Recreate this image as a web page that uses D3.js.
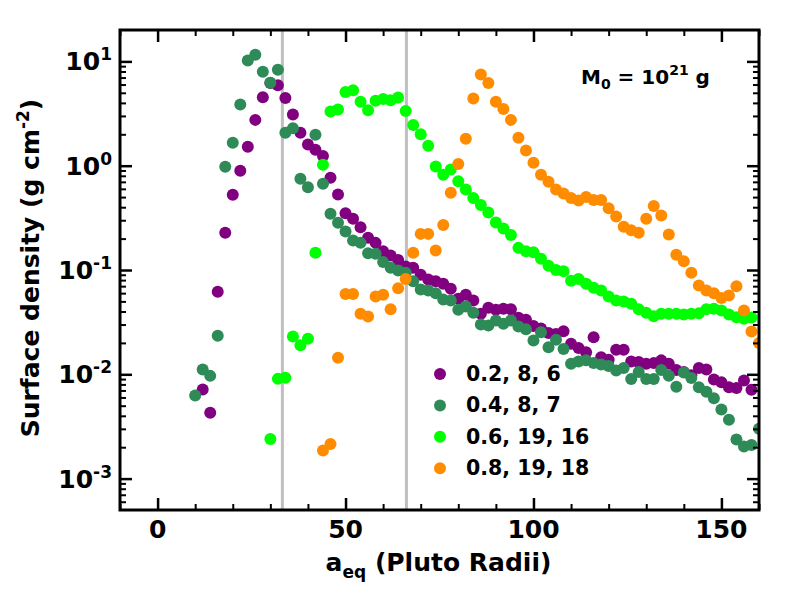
<!DOCTYPE html>
<meta charset="utf-8">
<style>
body { margin: 0; background: #fff; }
text { font-family: "DejaVu Sans", sans-serif; font-weight: bold; }
.axis path { display: none; }
.axis line { stroke: #000; }
</style>
<html>
<body>
<div id="chart"></div>
<script src="https://d3js.org/d3.v7.min.js"></script>
<script>

// ---- data ----
var purpleX = [12,14,16,18,20,22,24,26,28,30,32,34,36,38,40,42,44,46,48,50,52,54,56,58,60,62,64,66,68,70,72,74,76,78,80,82,84,86,88,90,92,94,96,98,100,102,104,106,108,110,112,114,116,118,120,122,124,126,128,130,132,134,136,138,140,142,144,146,148,150,152,154,156,158];
var purpleY = [0.00714,0.00427,0.0618,0.227,0.526,0.895,1.52,2.75,4.52,6.2,5.9,4.45,3.1,2.07,1.6,1.42,1.24,0.766,0.53,0.35,0.31,0.257,0.204,0.182,0.151,0.138,0.125,0.108,0.105,0.090,0.081,0.078,0.074,0.066,0.053,0.058,0.051,0.038,0.0434,0.0415,0.0424,0.042,0.0348,0.0333,0.029,0.0275,0.0249,0.0244,0.0259,0.0196,0.0179,0.0163,0.0227,0.0146,0.0138,0.0172,0.0172,0.0133,0.0131,0.0126,0.0128,0.0136,0.0126,0.011,0.0105,0.0098,0.0115,0.0111,0.0089,0.0084,0.0075,0.0074,0.0087,0.0071];

var seaX = [10,12,14,16,18,20,22,24,26,28,30,32,34,36,38,40,42,44,46,48,50,52,54,56,58,60,62,64,66,68,70,72,74,76,78,80,82,84,86,88,90,92,94,96,98,100,102,104,106,108,110,112,114,116,118,120,122,124,126,128,130,132,134,136,138,140,142,144,146,148,150,152,154,156,158,160];
var seaY = [0.00625,0.0111,0.00966,0.0234,0.977,1.66,3.87,10.2,11.6,7.96,6.25,8.3,2.07,2.29,0.75,0.62,1.98,0.67,0.346,0.284,0.234,0.192,0.182,0.145,0.143,0.119,0.105,0.099,0.094,0.078,0.065,0.0636,0.060,0.052,0.051,0.0415,0.0447,0.039,0.030,0.0294,0.0328,0.0305,0.0328,0.0287,0.027,0.0211,0.0253,0.0182,0.0214,0.0175,0.0126,0.0133,0.0136,0.0128,0.0124,0.012,0.0109,0.0115,0.009,0.0105,0.009,0.009,0.011,0.0097,0.0076,0.0104,0.0092,0.0075,0.0068,0.0059,0.0046,0.00366,0.00237,0.00203,0.0021,0.003];

var limeX = [30,32,34,36,38,40,42,44,46,48,50,52,54,56,58,60,62,64,66,68,70,72,74,76,78,80,82,84,86,88,90,92,94,96,98,100,102,104,106,108,110,112,114,116,118,120,122,124,126,128,130,132,134,136,138,140,142,144,146,148,150,152,154,156,158];
var limeY = [0.0024,0.00904,0.00925,0.023,0.019,0.0219,0.146,1.02,3.3,3.45,5.1,5.3,4.1,3.4,4.2,4.35,4.25,4.5,3.35,2.45,2.0,1.55,0.98,0.82,0.92,0.71,0.59,0.49,0.42,0.355,0.285,0.25,0.217,0.163,0.151,0.148,0.128,0.11,0.1,0.0975,0.079,0.082,0.074,0.0675,0.0636,0.0557,0.051,0.05,0.0475,0.042,0.039,0.036,0.038,0.038,0.038,0.0374,0.038,0.0385,0.042,0.0425,0.041,0.0374,0.0353,0.034,0.035];

var orangeX = [44,46,48,50,52,54,56,58,60,62,64,66,68,70,72,74,76,78,80,82,84,86,88,90,92,94,96,98,100,102,104,106,108,110,112,114,116,118,120,122,124,126,128,130,132,134,136,138,140,142,144,146,148,150,152,154,156,158,160];
var orangeY = [0.00186,0.00215,0.0144,0.059,0.059,0.038,0.0358,0.0557,0.058,0.042,0.067,0.082,0.146,0.222,0.222,0.154,0.27,0.55,1.04,1.81,4.4,7.5,6.2,4.1,3.5,2.75,1.85,1.4,1.07,0.82,0.70,0.59,0.54,0.49,0.464,0.50,0.47,0.47,0.39,0.326,0.26,0.24,0.227,0.31,0.41,0.333,0.219,0.14,0.121,0.094,0.071,0.0636,0.060,0.054,0.057,0.070,0.041,0.0257,0.02];

var seriesNames = ["0.2, 8, 6", "0.4, 8, 7", "0.6, 19, 16", "0.8, 19, 18"];
var seriesColors = ["#800080", "#2e8b57", "#00ff00", "#ff8c00"];
var hillLines = [33.2, 66.2];

var xMajor = [0, 50, 100, 150];
var xMinor = [-10, 10, 20, 30, 40, 60, 70, 80, 90, 110, 120, 130, 140, 160];
var yMajor = [1e-3, 1e-2, 1e-1, 1e0, 1e1];
var yExp = ["-3", "-2", "-1", "0", "1"];

// ---- layout ----
var margin = {top: 30, right: 41, bottom: 90, left: 120},
    width = 800 - margin.left - margin.right,
    height = 600 - margin.top - margin.bottom;

var svg = d3.select("#chart").append("svg")
    .attr("width", 800).attr("height", 600)
  .append("g")
    .attr("transform", "translate(" + margin.left + "," + margin.top + ")");

var x = d3.scaleLinear().domain([-10, 160]).range([0, width]);
var y = d3.scaleLog().domain([5e-4, 20]).range([height, 0]);

// minor log ticks 2..9 per decade
var yMinor = [];
yMajor.concat([1e-4]).forEach(function(d) {
  for (var k = 2; k <= 9; k++) {
    var v = d * k;
    if (v > 5e-4 && v < 20) yMinor.push(v);
  }
});

svg.append("defs").append("clipPath").attr("id", "clip")
  .append("rect").attr("width", width).attr("height", height);

// gray vertical lines
svg.selectAll(".hill").data(hillLines).enter().append("line")
  .attr("x1", d => x(d)).attr("x2", d => x(d))
  .attr("y1", 0).attr("y2", height)
  .attr("stroke", "#bfbfbf").attr("stroke-width", 3);

// points
var series = [
  {x: purpleX, y: purpleY},
  {x: seaX, y: seaY},
  {x: limeX, y: limeY},
  {x: orangeX, y: orangeY}
];
var pts = svg.append("g").attr("clip-path", "url(#clip)");
series.forEach(function(s, i) {
  pts.selectAll(".s" + i)
    .data(s.x.map((d, j) => [d, s.y[j]]))
    .enter().append("circle")
      .attr("cx", d => x(d[0]))
      .attr("cy", d => y(d[1]))
      .attr("r", 6)
      .attr("fill", seriesColors[i]);
});

// ticks, all pointing inward
function ticks(axis, vals, size, w, tr) {
  svg.append("g").attr("class", "axis")
    .attr("transform", tr || null)
    .call(axis.tickValues(vals).tickSize(size).tickFormat(""))
    .selectAll("line").attr("stroke-width", w);
}
ticks(d3.axisBottom(x), xMajor, -12, 2.5, "translate(0," + height + ")");
ticks(d3.axisBottom(x), xMinor, -6, 2, "translate(0," + height + ")");
ticks(d3.axisTop(x), xMajor, -12, 2.5);
ticks(d3.axisTop(x), xMinor, -6, 2);
ticks(d3.axisLeft(y), yMajor, -12, 2.5);
ticks(d3.axisLeft(y), yMinor, -6, 2);
ticks(d3.axisRight(y), yMajor, -12, 2.5, "translate(" + width + ",0)");
ticks(d3.axisRight(y), yMinor, -6, 2, "translate(" + width + ",0)");

// frame
svg.append("rect").attr("width", width).attr("height", height)
  .attr("fill", "none").attr("stroke", "#000").attr("stroke-width", 3);

// x tick labels
svg.selectAll(".xl").data(xMajor).enter().append("text")
  .attr("x", d => x(d)).attr("y", height + 28)
  .attr("text-anchor", "middle").style("font-size", "25px")
  .text(d => d);

// y tick labels 10^n
yMajor.forEach(function(d, i) {
  var t = svg.append("text")
    .attr("x", -8).attr("y", y(d) + 9)
    .attr("text-anchor", "end").style("font-size", "25px");
  t.append("tspan").text("10");
  t.append("tspan").attr("dy", -10).style("font-size", "17px").text(yExp[i]);
});

// axis labels
var xl = svg.append("text")
  .attr("x", width / 2 - 1).attr("y", height + 61)
  .attr("text-anchor", "middle").style("font-size", "25px");
xl.append("tspan").text("a");
xl.append("tspan").attr("dy", 7).style("font-size", "17px").text("eq");
xl.append("tspan").attr("dy", -7).text(" (Pluto Radii)");

var yl = svg.append("text")
  .attr("transform", "translate(-81," + (height / 2 - 2) + ") rotate(-90)")
  .attr("text-anchor", "middle").style("font-size", "25px");
yl.append("tspan").text("Surface density (g cm");
yl.append("tspan").attr("dy", -10).style("font-size", "17px").text("-2");
yl.append("tspan").attr("dy", 10).text(")");

// M0 annotation
var m = svg.append("text")
  .attr("x", 461).attr("y", 54).style("font-size", "20px");
m.append("tspan").text("M");
m.append("tspan").attr("dy", 5).style("font-size", "14px").text("0");
m.append("tspan").attr("dy", -5).text(" = 10");
m.append("tspan").attr("dy", -9).style("font-size", "14px").text("21");
m.append("tspan").attr("dy", 9).text(" g");

// legend
var lg = svg.append("g").attr("transform", "translate(320,344)");
seriesNames.forEach(function(n, i) {
  lg.append("circle").attr("cx", 0).attr("cy", i * 31.4).attr("r", 6)
    .attr("fill", seriesColors[i]);
  lg.append("text").attr("x", 26).attr("y", i * 31.4 + 7)
    .style("font-size", "20.5px").text(n);
});

</script>
</body>
</html>
